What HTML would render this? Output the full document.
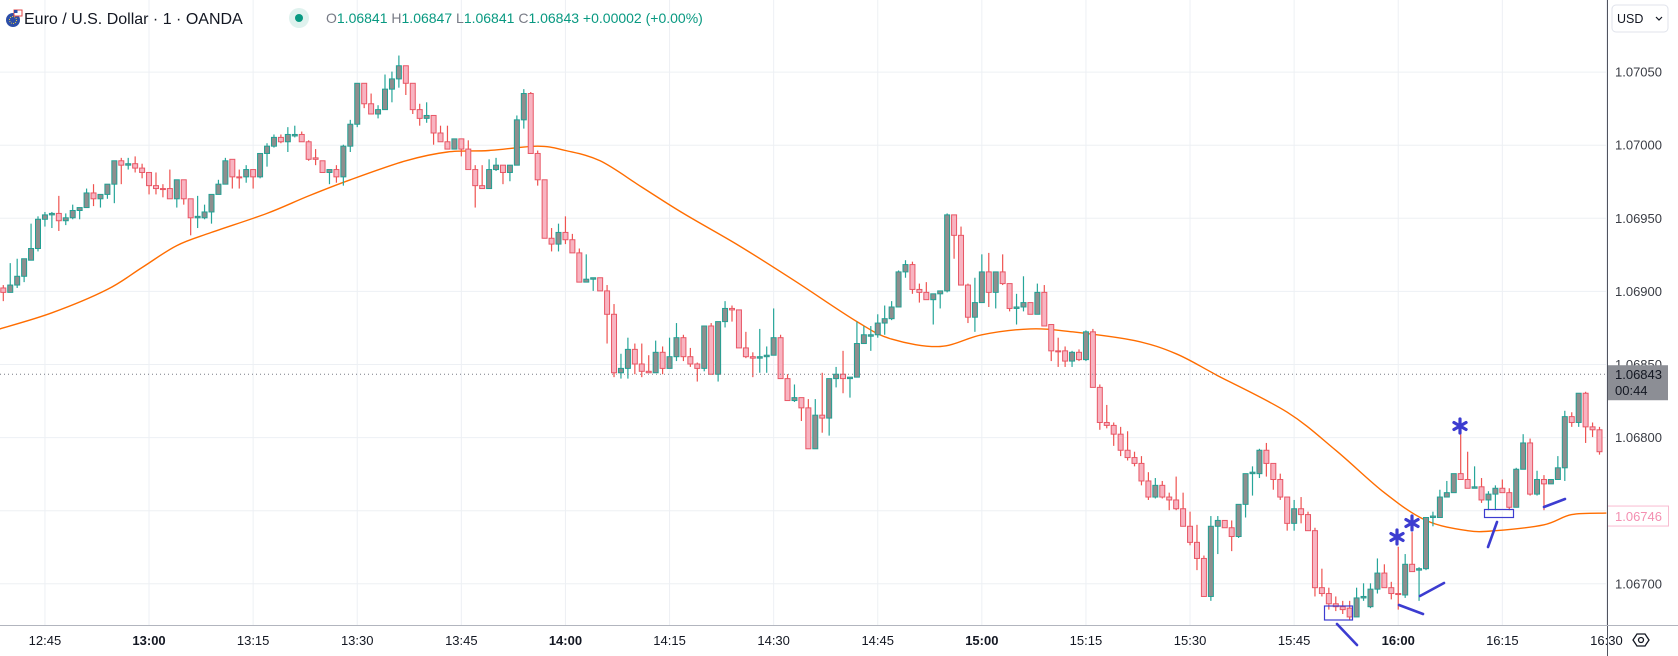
<!DOCTYPE html>
<html><head><meta charset="utf-8">
<style>
html,body{margin:0;padding:0;background:#fff;}
body{width:1678px;height:656px;overflow:hidden;font-family:"Liberation Sans",sans-serif;}
svg{position:absolute;left:0;top:0;}
</style></head>
<body>
<svg id="chart" width="1678" height="656" xmlns="http://www.w3.org/2000/svg">
  <defs><clipPath id="plotclip"><rect x="0" y="0" width="1607" height="625"/></clipPath></defs>
  <g id="grid"></g>
  <g id="ma" clip-path="url(#plotclip)"></g>
  <g id="candles" clip-path="url(#plotclip)"></g>
  <line id="priceLine" x1="0" x2="1607" stroke="#787b86" stroke-width="1" stroke-dasharray="1,3"/>
  <g id="drawings"></g>
  <rect x="1607" y="0" width="71" height="656" fill="#fff"/>
  <rect x="0" y="625" width="1607" height="31" fill="#fff"/>
  <g id="timeaxis"></g>
  <g id="priceaxis"></g>
  <line x1="1607.5" y1="0" x2="1607.5" y2="656" stroke="#50535e" stroke-width="1"/>
  <line x1="0" y1="625.5" x2="1678" y2="625.5" stroke="#b2b5be" stroke-width="1"/>
  <g id="drawings2"></g>
  <g>
    <g>
      <circle cx="13" cy="20" r="7" fill="#2c4ea8"/>
      <circle cx="13" cy="20" r="3.5" fill="none" stroke="#f5d23a" stroke-width="1" stroke-dasharray="1,1.2"/>
      <rect x="14" y="10" width="8" height="6" fill="#fff" stroke="#e04848" stroke-width="1"/>
      <rect x="14" y="10" width="3.5" height="3" fill="#2c4ea8"/>
    </g>
    <text x="24" y="24" font-size="16" fill="#131722">Euro / U.S. Dollar · 1 · OANDA</text>
    <circle cx="299" cy="18" r="10" fill="#dff2ee"/>
    <circle cx="299" cy="18" r="4" fill="#089981"/>
    <text x="326" y="23" font-size="14"><tspan fill="#787b86">O</tspan><tspan fill="#089981">1.06841 </tspan><tspan fill="#787b86">H</tspan><tspan fill="#089981">1.06847 </tspan><tspan fill="#787b86">L</tspan><tspan fill="#089981">1.06841 </tspan><tspan fill="#787b86">C</tspan><tspan fill="#089981">1.06843 +0.00002 (+0.00%)</tspan></text>
  </g>
  <g>
    <rect x="1612" y="5" width="56" height="27" rx="4" fill="#fff" stroke="#e0e3eb"/>
    <text x="1617" y="23" font-size="12.5" fill="#131722">USD</text>
    <path d="M1656 17 l3 3 l3 -3" fill="none" stroke="#131722" stroke-width="1.2"/>
  </g>
  <g>
    <path d="M1633 640 l4 -6 h8 l4 6 l-4 6 h-8 z" fill="none" stroke="#131722" stroke-width="1.3"/>
    <circle cx="1641" cy="640" r="2.5" fill="none" stroke="#131722" stroke-width="1.3"/>
  </g>
</svg>
<script>
const open = [1.06902,1.06899,1.06904,1.06910,1.06921,1.06929,1.06949,1.06952,1.06953,1.06948,
1.06950,1.06955,1.06957,1.06967,1.06963,1.06966,1.06973,1.06989,1.06986,1.06987,
1.06984,1.06981,1.06972,1.06970,1.06970,1.06963,1.06976,1.06963,1.06950,1.06950,
1.06954,1.06966,1.06973,1.06990,1.06978,1.06978,1.06983,1.06978,1.06994,1.06999,
1.07005,1.07002,1.07006,1.07007,1.07002,1.06991,1.06989,1.06981,1.06983,1.06978,
1.06999,1.07014,1.07042,1.07028,1.07021,1.07024,1.07038,1.07045,1.07054,1.07042,
1.07024,1.07018,1.07020,1.07008,1.07002,1.06997,1.07004,1.06997,1.06983,1.06972,
1.06970,1.06983,1.06986,1.06981,1.06986,1.07017,1.07035,1.06994,1.06976,1.06936,
1.06932,1.06940,1.06935,1.06926,1.06906,1.06908,1.06909,1.06900,1.06884,1.06844,
1.06847,1.06860,1.06850,1.06845,1.06844,1.06858,1.06847,1.06855,1.06868,1.06855,
1.06850,1.06847,1.06876,1.06843,1.06879,1.06888,1.06887,1.06861,1.06855,1.06854,
1.06855,1.06856,1.06868,1.06840,1.06825,1.06827,1.06820,1.06792,1.06815,1.06813,
1.06840,1.06843,1.06840,1.06841,1.06864,1.06869,1.06870,1.06878,1.06881,1.06889,
1.06913,1.06918,1.06901,1.06899,1.06894,1.06898,1.06900,1.06952,1.06938,1.06904,
1.06882,1.06892,1.06913,1.06899,1.06913,1.06905,1.06888,1.06889,1.06892,1.06884,
1.06899,1.06877,1.06859,1.06859,1.06852,1.06858,1.06853,1.06872,1.06834,1.06810,
1.06808,1.06802,1.06791,1.06786,1.06782,1.06770,1.06759,1.06767,1.06759,1.06757,
1.06751,1.06739,1.06728,1.06717,1.06691,1.06739,1.06743,1.06738,1.06732,1.06754,
1.06775,1.06775,1.06791,1.06782,1.06771,1.06759,1.06741,1.06751,1.06747,1.06736,
1.06697,1.06693,1.06686,1.06684,1.06683,1.06677,1.06690,1.06684,1.06696,1.06707,
1.06697,1.06693,1.06692,1.06713,1.06709,1.06710,1.06745,1.06745,1.06759,1.06762,
1.06775,1.06771,1.06765,1.06766,1.06757,1.06761,1.06765,1.06762,1.06752,1.06778,
1.06796,1.06761,1.06771,1.06768,1.06771,1.06779,1.06814,1.06810,1.06830,1.06807,
1.06805];
const high = [1.06904,1.06919,1.06922,1.06922,1.06946,1.06951,1.06954,1.06954,1.06965,1.06953,
1.06959,1.06957,1.06970,1.06973,1.06966,1.06973,1.06989,1.06991,1.06991,1.06992,
1.06987,1.06981,1.06981,1.06973,1.06983,1.06976,1.06976,1.06963,1.06965,1.06959,
1.06966,1.06976,1.06991,1.06990,1.06983,1.06986,1.06983,1.06994,1.07001,1.07007,
1.07007,1.07012,1.07013,1.07009,1.07003,1.06997,1.06989,1.06983,1.06986,1.07000,
1.07017,1.07042,1.07042,1.07035,1.07027,1.07048,1.07050,1.07061,1.07054,1.07042,
1.07028,1.07029,1.07020,1.07013,1.07013,1.07004,1.07004,1.07003,1.06986,1.06986,
1.06990,1.06991,1.06986,1.06986,1.07020,1.07038,1.07036,1.06996,1.06976,1.06943,
1.06946,1.06951,1.06939,1.06929,1.06925,1.06909,1.06909,1.06904,1.06891,1.06857,
1.06868,1.06864,1.06864,1.06856,1.06866,1.06862,1.06868,1.06878,1.06870,1.06861,
1.06851,1.06876,1.06878,1.06879,1.06893,1.06890,1.06887,1.06872,1.06858,1.06874,
1.06862,1.06888,1.06870,1.06843,1.06836,1.06827,1.06826,1.06826,1.06844,1.06840,
1.06848,1.06859,1.06841,1.06879,1.06876,1.06876,1.06884,1.06890,1.06893,1.06914,
1.06921,1.06920,1.06905,1.06906,1.06898,1.06900,1.06953,1.06952,1.06944,1.06905,
1.06909,1.06925,1.06926,1.06913,1.06925,1.06905,1.06898,1.06910,1.06892,1.06905,
1.06904,1.06877,1.06868,1.06862,1.06859,1.06860,1.06873,1.06874,1.06836,1.06822,
1.06810,1.06807,1.06804,1.06790,1.06787,1.06776,1.06772,1.06770,1.06762,1.06773,
1.06762,1.06749,1.06740,1.06719,1.06746,1.06746,1.06743,1.06743,1.06754,1.06775,
1.06780,1.06792,1.06796,1.06782,1.06775,1.06759,1.06757,1.06759,1.06749,1.06738,
1.06710,1.06697,1.06691,1.06688,1.06688,1.06697,1.06700,1.06700,1.06717,1.06713,
1.06701,1.06725,1.06720,1.06735,1.06711,1.06745,1.06749,1.06764,1.06770,1.06775,
1.06802,1.06790,1.06780,1.06772,1.06763,1.06767,1.06771,1.06765,1.06779,1.06802,
1.06799,1.06777,1.06774,1.06771,1.06787,1.06818,1.06817,1.06830,1.06831,1.06810,
1.06807];
const low = [1.06893,1.06899,1.06902,1.06906,1.06921,1.06927,1.06944,1.06943,1.06941,1.06945,
1.06949,1.06949,1.06957,1.06958,1.06957,1.06963,1.06960,1.06973,1.06983,1.06981,
1.06977,1.06966,1.06966,1.06964,1.06963,1.06957,1.06959,1.06938,1.06943,1.06949,
1.06946,1.06966,1.06973,1.06970,1.06970,1.06974,1.06970,1.06977,1.06985,1.06998,
1.07001,1.06995,1.07005,1.07002,1.06989,1.06986,1.06981,1.06973,1.06974,1.06972,
1.06995,1.07012,1.07025,1.07021,1.07018,1.07024,1.07029,1.07039,1.07034,1.07021,
1.07013,1.07015,1.07000,1.07002,1.06997,1.06997,1.06992,1.06983,1.06957,1.06970,
1.06970,1.06982,1.06973,1.06975,1.06986,1.07011,1.06994,1.06972,1.06936,1.06927,
1.06927,1.06932,1.06926,1.06906,1.06906,1.06900,1.06900,1.06864,1.06841,1.06840,
1.06840,1.06843,1.06841,1.06844,1.06844,1.06843,1.06847,1.06852,1.06852,1.06848,
1.06838,1.06845,1.06843,1.06838,1.06875,1.06879,1.06861,1.06854,1.06841,1.06844,
1.06844,1.06856,1.06840,1.06825,1.06824,1.06811,1.06792,1.06792,1.06803,1.06801,
1.06834,1.06830,1.06827,1.06841,1.06864,1.06859,1.06868,1.06870,1.06880,1.06889,
1.06909,1.06898,1.06892,1.06894,1.06877,1.06888,1.06899,1.06922,1.06904,1.06878,
1.06872,1.06892,1.06889,1.06888,1.06904,1.06886,1.06877,1.06886,1.06884,1.06884,
1.06876,1.06852,1.06848,1.06848,1.06848,1.06852,1.06852,1.06834,1.06805,1.06806,
1.06794,1.06787,1.06784,1.06780,1.06767,1.06757,1.06758,1.06758,1.06750,1.06750,
1.06739,1.06726,1.06709,1.06691,1.06688,1.06720,1.06738,1.06722,1.06731,1.06745,
1.06760,1.06772,1.06773,1.06764,1.06757,1.06736,1.06736,1.06741,1.06736,1.06691,
1.06691,1.06682,1.06681,1.06679,1.06675,1.06677,1.06688,1.06683,1.06693,1.06697,
1.06689,1.06682,1.06690,1.06708,1.06688,1.06709,1.06739,1.06745,1.06759,1.06762,
1.06771,1.06765,1.06765,1.06755,1.06750,1.06750,1.06762,1.06750,1.06752,1.06778,
1.06760,1.06760,1.06750,1.06768,1.06771,1.06770,1.06807,1.06807,1.06796,1.06800,
1.06788];
const close = [1.06899,1.06904,1.06910,1.06922,1.06929,1.06949,1.06952,1.06953,1.06948,1.06950,
1.06955,1.06957,1.06967,1.06963,1.06966,1.06973,1.06989,1.06986,1.06987,1.06984,
1.06981,1.06972,1.06970,1.06970,1.06963,1.06976,1.06963,1.06950,1.06951,1.06954,
1.06966,1.06973,1.06989,1.06978,1.06978,1.06983,1.06978,1.06994,1.06999,1.07005,
1.07002,1.07007,1.07007,1.07002,1.06990,1.06990,1.06981,1.06983,1.06978,1.06999,
1.07014,1.07042,1.07028,1.07021,1.07024,1.07038,1.07045,1.07054,1.07042,1.07024,
1.07018,1.07020,1.07008,1.07002,1.06997,1.07004,1.06997,1.06983,1.06972,1.06970,
1.06983,1.06986,1.06981,1.06986,1.07017,1.07035,1.06994,1.06976,1.06936,1.06932,
1.06940,1.06935,1.06926,1.06906,1.06908,1.06909,1.06900,1.06884,1.06844,1.06847,
1.06860,1.06850,1.06845,1.06844,1.06858,1.06847,1.06855,1.06868,1.06855,1.06850,
1.06847,1.06876,1.06843,1.06879,1.06888,1.06887,1.06861,1.06855,1.06854,1.06855,
1.06856,1.06868,1.06840,1.06825,1.06827,1.06820,1.06792,1.06815,1.06813,1.06840,
1.06843,1.06840,1.06841,1.06864,1.06870,1.06870,1.06878,1.06881,1.06889,1.06913,
1.06918,1.06901,1.06899,1.06894,1.06898,1.06900,1.06952,1.06938,1.06904,1.06882,
1.06892,1.06913,1.06899,1.06913,1.06905,1.06888,1.06889,1.06892,1.06884,1.06899,
1.06876,1.06859,1.06859,1.06852,1.06858,1.06853,1.06872,1.06834,1.06810,1.06808,
1.06802,1.06791,1.06786,1.06782,1.06770,1.06759,1.06767,1.06759,1.06757,1.06751,
1.06739,1.06728,1.06717,1.06691,1.06739,1.06743,1.06738,1.06732,1.06754,1.06775,
1.06776,1.06791,1.06782,1.06771,1.06759,1.06741,1.06751,1.06747,1.06736,1.06697,
1.06693,1.06686,1.06684,1.06682,1.06677,1.06690,1.06691,1.06696,1.06707,1.06697,
1.06693,1.06693,1.06713,1.06708,1.06710,1.06745,1.06746,1.06759,1.06762,1.06775,
1.06771,1.06765,1.06766,1.06757,1.06761,1.06765,1.06762,1.06752,1.06778,1.06796,
1.06761,1.06771,1.06768,1.06771,1.06779,1.06814,1.06810,1.06830,1.06807,1.06805,
1.06790];
const maIndex = [-0.5,7,15,20,25,30,38,44,50,58,64,70,77,81,86,92,98,106,114,123,128,135,141,148,154,163,169,175,185,192,199,205,211,215,222,226,231];
const maValue = [1.06874,1.06885,1.06901,1.06916,1.06931,1.06940,1.06953,1.06965,1.06976,1.06989,1.06995,1.06996,1.06999,1.06996,1.06989,1.06971,1.06953,1.06931,1.06907,1.06879,1.06867,1.06862,1.06870,1.06874,1.06872,1.06866,1.06857,1.06842,1.06817,1.06791,1.06762,1.06743,1.06736,1.06736,1.06740,1.06747,1.06748];
const priceTicks = [1.07050,1.07000,1.06950,1.06900,1.06850,1.06800,1.06750,1.06700];
const priceTickLabels = ["1.07050","1.07000","1.06950","1.06900","1.06850","1.06800","1.06750","1.06700"];
const timeTickIndex = [6,21,36,51,66,81,96,111,126,141,156,171,186,201,216,231];
const timeTickLabels = ["12:45","13:00","13:15","13:30","13:45","14:00","14:15","14:30","14:45","15:00","15:15","15:30","15:45","16:00","16:15","16:30"];
const lastPrice = 1.06843;
const lastPriceLabel = "1.06843";
const maLastLabel = "1.06746";
const maLastValue = 1.06746;

const NS = "http://www.w3.org/2000/svg";
function yOf(p){ return 583.3 - (p - 1.067) / 0.0005 * 73.1; }
function xOf(i){ return 3.3 + i * 6.94; }
function mk(tag, attrs, parent){
  const e = document.createElementNS(NS, tag);
  for (const k in attrs) e.setAttribute(k, attrs[k]);
  parent.appendChild(e);
  return e;
}
const grid = document.getElementById('grid');
const pax = document.getElementById('priceaxis');
const tax = document.getElementById('timeaxis');
priceTicks.forEach((p, k) => {
  const l = mk('line', {x1:0, x2:1607, y1:yOf(p)+0.5, y2:yOf(p)+0.5, stroke:'#edf0f4', 'stroke-width':1}, grid);
  
  
  const t = mk('text', {x:1615, y:yOf(p)+5, 'font-size':13, fill:'#3a3d45'}, pax);
  t.textContent = priceTickLabels[k];
  
  
});
timeTickIndex.forEach((i, k) => {
  const x = xOf(i);
  const l = mk('line', {x1:x, x2:x, y1:0, y2:625, stroke:'#edf0f4', 'stroke-width':1}, grid);
  
  
  const bold = timeTickLabels[k].endsWith(':00');
  const t = mk('text', {x:x, y:645, 'font-size':13, fill:'#131722', 'text-anchor':'middle', 'font-weight': bold ? 'bold' : 'normal'}, tax);
  t.textContent = timeTickLabels[k];
  
  
});
// moving average (smooth Catmull-Rom through data points)
const maG = document.getElementById('ma');
const P = maIndex.map((i, k) => [xOf(i), yOf(maValue[k])]);
let d = 'M' + P[0][0].toFixed(1) + ',' + P[0][1].toFixed(1);
for (let k = 0; k < P.length - 1; k++) {
  const p0 = P[Math.max(0, k-1)], p1 = P[k], p2 = P[k+1], p3 = P[Math.min(P.length-1, k+2)];
  const c1x = p1[0] + (p2[0]-p0[0])/6, c1y = p1[1] + (p2[1]-p0[1])/6;
  const c2x = p2[0] - (p3[0]-p1[0])/6, c2y = p2[1] - (p3[1]-p1[1])/6;
  d += ' C' + c1x.toFixed(1) + ',' + c1y.toFixed(1) + ' ' + c2x.toFixed(1) + ',' + c2y.toFixed(1) + ' ' + p2[0].toFixed(1) + ',' + p2[1].toFixed(1);
}
const maLine = mk('path', {d:d, fill:'none', stroke:'#ff6d00', 'stroke-width':1.4}, maG);


// candles
const cg = document.getElementById('candles');
for (let i = 0; i < open.length; i++) {
  const up = close[i] > open[i];
  const x = xOf(i);
  const w = mk('line', {x1:x, x2:x, y1:yOf(high[i]), y2:yOf(low[i]), stroke: up ? '#26a69a' : '#ef5350', 'stroke-width':1.2}, cg);
  
  
  const top = yOf(Math.max(open[i], close[i]));
  const bot = yOf(Math.min(open[i], close[i]));
  const b = mk('rect', {x:x-2.5, y:top, width:5, height:Math.max(1, bot-top), fill: up ? '#8e8e8e' : '#f8b4c1', stroke: up ? '#22a093' : '#e85766', 'stroke-width':1}, cg);
  
  
}
// last price line & labels
const pl = document.getElementById('priceLine');
pl.setAttribute('y1', yOf(lastPrice)); pl.setAttribute('y2', yOf(lastPrice));
const lpY = yOf(lastPrice);
const lpBox = mk('rect', {x:1607, y:lpY-9, width:61, height:35, fill:'#8c8e95'}, pax);


const lpT = mk('text', {x:1615, y:lpY+5, 'font-size':13, fill:'#131722'}, pax);
lpT.textContent = lastPriceLabel;


const cdT = mk('text', {x:1615, y:lpY+21, 'font-size':13, fill:'#131722'}, pax);
cdT.textContent = "00:44";


const maY = yOf(maLastValue);
const maBox = mk('rect', {x:1607.5, y:maY-10, width:61, height:20, fill:'#fff', stroke:'#f8bbd0'}, pax);


const maT = mk('text', {x:1615, y:maY+5, 'font-size':13, fill:'#f48fb1'}, pax);
maT.textContent = maLastLabel;


// drawings
const dg = document.getElementById('drawings2');
const blue = '#3c3cd0';
[[1397,537],[1412,523],[1460,426]].forEach(c => {
  const g = mk('g', {}, dg);
  
  
  for (let a = 0; a < 3; a++) {
    const ang = Math.PI / 2 + a * Math.PI / 3;
    const dx = Math.cos(ang) * 7, dy = Math.sin(ang) * 7;
    mk('line', {x1:c[0]-dx, y1:c[1]-dy, x2:c[0]+dx, y2:c[1]+dy, stroke:blue, 'stroke-width':3.2, 'stroke-linecap':'round'}, g);
  }
});
[[1324.5,606,28,14],[1484.5,509.5,29,8]].forEach(r => {
  const e = mk('rect', {x:r[0], y:r[1], width:r[2], height:r[3], fill:'none', stroke:blue, 'stroke-width':1.2}, dg);
  
  
});
[[1337,624,1357,645],[1399,605,1423,614],[1420,596,1444,583],[1488,547,1497,522],[1544,507,1565,499]].forEach(s => {
  const e = mk('line', {x1:s[0], y1:s[1], x2:s[2], y2:s[3], stroke:blue, 'stroke-width':2.6, 'stroke-linecap':'round'}, dg);
  
  
});
</script>
</body></html>
